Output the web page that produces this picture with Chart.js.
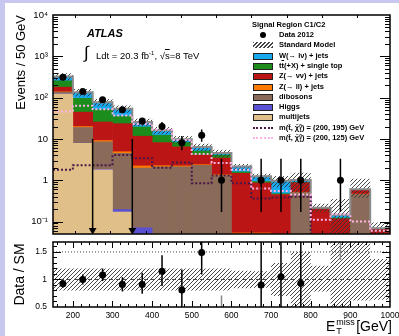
<!DOCTYPE html>
<html>
<head>
<meta charset="utf-8">
<title>Signal Region C1/C2</title>
<script src="https://cdn.jsdelivr.net/npm/chart.js@4.4.1/dist/chart.umd.min.js"></script>
<style>
  html, body { margin: 0; padding: 0; background: #c7c7ef; }
  #wrap { position: relative; width: 399px; height: 336px; overflow: hidden; }
  #paper { position: absolute; left: 5px; top: 3px; right: 0; bottom: 0; background: #fff; }
  canvas { position: absolute; left: 0; }
  .txt { position: absolute; font-family: "Liberation Sans", Arial, sans-serif; color: #000; white-space: nowrap; }
  .row { position: absolute; left: 252px; height: 10px; line-height: 10px; font: bold 7.5px "Liberation Sans", Arial, sans-serif; white-space: nowrap; }
  .row .sw { position: absolute; left: 1px; top: 2px; width: 18px; height: 5px; border: 1px solid #222; }
  .row .lab { position: absolute; left: 27px; top: 0; }
  .ss { display: inline-flex; flex-direction: column; font-size: 5px; line-height: 4px; vertical-align: middle; }
  .st { display: inline-block; position: relative; width: 17px; height: 10px; }
  .st span { position: absolute; left: 1px; font-size: 9px; line-height: 9px; }
</style>
</head>
<body>
<div id="wrap">
  <div id="paper"></div>
  <canvas id="main" width="399" height="238" style="top:0"></canvas>
  <canvas id="ratio" width="399" height="98" style="top:238px"></canvas>

  <div class="txt" style="left:87px;top:27px;font-weight:bold;font-style:italic;font-size:11px">ATLAS</div>
  <div class="txt" style="left:84px;top:43px;font-size:17px">∫</div>
  <div class="txt" style="left:96px;top:50px;font-size:9.5px">Ldt = 20.3 fb<sup style="font-size:6px">-1</sup>, √<span style="text-decoration:overline">s</span>=8 TeV</div>
  <div class="txt" style="left:252px;top:20px;font-weight:bold;font-size:7.5px">Signal Region C1/C2</div>
  <div id="legend"></div>
  <div class="txt" style="right:7px;top:318px;font-size:14px;line-height:16px">E<span class="st"><span style="top:-3px">miss</span><span style="top:6px">T</span></span> [GeV]</div>
</div>
<script>
// ビン境界 (GeV)
const binEdges = [150, 200, 250, 300, 350, 400, 450, 500, 550, 600, 650, 700, 750, 800, 850, 900, 950, 1000];

// 背景 (Events / 50 GeV) 下から順に
const multijets = [122, 7.8, 1.78, 0.17, 0.001, 0.001, 0.001, 0.001, 0.001, 0.001, 0.001, 0.001, 0.001, 0.001, 0.001, 0.001, 0.001];
const higgs     = [0.2, 0.1, 0.05, 0.025, 0.07, 0.005, 0.005, 0.005, 0.005, 0.002, 0.002, 0.002, 0.002, 0.001, 0.001, 0.001, 0.001];
const dibosons  = [14, 11, 6.7, 4.3, 1.9, 2.1, 2.1, 2.3, 1.3, 0.03, 0.03, 0.03, 0.5, 0.005, 0.005, 0.45, 0.004];
const zll       = [2, 1, 0.6, 0.4, 0.25, 0.15, 0.12, 0.08, 0.05, 0.02, 0.02, 0.01, 0.01, 0.005, 0.005, 0.01, 0.002];
const znn       = [41, 24.6, 16.6, 18.5, 9.4, 5.9, 4.2, 1.7, 2.1, 1.42, 0.81, 0.41, 0.36, 0.19, 0.105, 0.13, 0.058];
const ttbar     = [75, 51.5, 25.3, 12.2, 7.9, 4.1, 1.8, 1.0, 0.6, 0.12, 0.07, 0.02, 0.02, 0.003, 0.005, 0.003, 0.001];
const wjets     = [69, 38, 26, 18, 6.2, 3.9, 1.6, 1.3, 0.5, 0.55, 0.31, 0.5, 0.12, 0.01, 0.025, 0.01, 0.002];

// SM 不確かさ (相対)
const smUncUp = [0.2, 0.2, 0.2, 0.2, 0.2, 0.2, 0.2, 0.2, 0.2, 0.16, 0.15, 0.3, 0.5, 0.25, 1.4, 0.8, 0.37];
const smUncDn = [0.2, 0.2, 0.2, 0.2, 0.2, 0.2, 0.2, 0.2, 0.2, 0.16, 0.15, 0.3, 0.5, 0.22, 0.8, 0.38, 0.37];

// データ 2012
const data2012 = [313, 141, 89, 51, 27, 20, 8.1, 12.3, 1, null, 1, 1, 1, null, 1, null, null];
const dataLo   = [296, 129, 80, 44, 22, 16.2, 5.3, 8.6, 0.17, null, 0.17, 0.17, 0.17, null, 0.17, null, null];
const dataHi   = [331, 153, 99, 58, 32, 25.7, 11.8, 16.9, 3.3, null, 3.3, 3.3, 3.3, null, 3.3, null, null];

// シグナル
const sig195 = [1.8, 2.3, 2.3, 4.1, 3.4, 2.0, 2.7, 0.85, 1.3, 0.85, 0.36, 0.38, 0.4, 0.01, 0.01, 0.01, 0.01];
const sig125 = [46, 64, 52, 37, 23, 17, 9.4, 4.3, 2.6, 1.8, 0.63, 0.55, 0.45, 0.11, 0.15, 0.1, 0.06];

// Data / SM
const ratioVal = [0.92, 1.0, 1.08, 0.91, 0.91, 1.15, 0.81, 1.49, 0.21, null, 0.9, 1.05, 0.93, null, 7.1, null, null];
const ratioLo  = [0.85, 0.91, 0.97, 0.78, 0.74, 0.88, 0.45, 1.09, 0.03, null, 0.15, 0.17, 0.16, null, 1.36, null, null];
const ratioHi  = [0.99, 1.09, 1.2, 1.04, 1.12, 1.44, 1.18, 2.3, 0.71, null, 3.0, 3.4, 3.1, null, 24, null, null];

// 矢印 (GeV) と上端
const arrowX = [250, 350];
const arrowTop = 10;

// 目盛りラベル
const yTickValues = [0.1, 1, 10, 100, 1000, 10000];
const yTickLabels = ['10⁻¹', '1', '10', '10²', '10³', '10⁴'];
const rTickValues = [0.5, 1, 1.5];
const rTickLabels = ['0.5', '1', '1.5'];
const xTickValues = [200, 300, 400, 500, 600, 700, 800, 900, 1000];
const xTickLabels = ['200', '300', '400', '500', '600', '700', '800', '900', '1000'];

const FONT = '"Liberation Sans", Arial, sans-serif';
Chart.defaults.font.family = FONT;
Chart.defaults.color = '#000';

const stack = [
  { label: 'multijets', data: multijets, color: '#e0bf88' },
  { label: 'Higgs', data: higgs, color: '#5a50d4' },
  { label: 'dibosons', data: dibosons, color: '#8a6a58' },
  { label: 'Z(→ ll) + jets', data: zll, color: '#ff7a00' },
  { label: 'Z(→ νν) + jets', data: znn, color: '#bb1515' },
  { label: 'tt̄(+X) + single top', data: ttbar, color: '#1c8c1c' },
  { label: 'W(→ lν) + jets', data: wjets, color: '#18a8ee' }
];

const centres = binEdges.slice(0, -1).map((e, i) => (e + binEdges[i + 1]) / 2);
const smTotal = centres.map((_, i) => stack.reduce((s, b) => s + b.data[i], 0));

function steps(vals) {
  const pts = vals.map((v, i) => ({ x: binEdges[i], y: v }));
  pts.push({ x: binEdges[binEdges.length - 1], y: vals[vals.length - 1] });
  return pts;
}
function errBars(lo, hi, keep) {
  const pts = [];
  centres.forEach((x, i) => {
    if (lo[i] == null || !keep(i)) return;
    pts.push({ x, y: lo[i] }, { x, y: hi[i] }, { x, y: null });
  });
  return pts;
}
function points(vals) {
  return centres.map((x, i) => ({ x, y: vals[i] }));
}
function hatch() {
  const c = document.createElement('canvas');
  c.width = 4; c.height = 4;
  const g = c.getContext('2d');
  g.strokeStyle = '#333'; g.lineWidth = 0.9;
  g.beginPath();
  g.moveTo(0, 4); g.lineTo(4, 0);
  g.moveTo(-1, 1); g.lineTo(1, -1);
  g.moveTo(3, 5); g.lineTo(5, 3);
  g.stroke();
  return c.getContext('2d').createPattern(c, 'repeat');
}
const pattern = hatch();

function logTicks(scale) {
  const t = [];
  for (let e = -2; e <= 4; e++) for (let m = 1; m <= 9; m++) {
    const v = +(m * Math.pow(10, e)).toPrecision(6);
    if (v >= scale.min && v <= scale.max) t.push({ value: v, major: m === 1 });
  }
  scale.ticks = t;
}
function ratioTicks(scale) {
  const t = [];
  for (let k = 0; k <= 11; k++) {
    const v = +(0.5 + 0.1 * k).toFixed(1);
    t.push({ value: v, major: k % 5 === 0 });
  }
  scale.ticks = t;
}
function xTicks(scale) {
  const t = [];
  for (let v = 160; v <= 1000; v += 20) t.push({ value: v, major: v % 100 === 0 });
  scale.ticks = t;
}
function edgeTicks(scale) {
  scale.ticks = binEdges.map(v => ({ value: v }));
}
function pick(values, labels) {
  return v => {
    const i = values.findIndex(w => Math.abs(w - v) < 1e-6 * w);
    return i < 0 ? '' : labels[i];
  };
}

// 枠と内向きの目盛り
const frameTicks = {
  id: 'frameTicks',
  afterDatasetsDraw(chart, args, opts) {
    const { ctx, chartArea: a } = chart;
    const xs = chart.scales[opts.xId], ys = chart.scales.y;
    ctx.save();
    ctx.strokeStyle = '#000';
    ctx.lineWidth = 1;
    ctx.beginPath();
    xs.ticks.forEach(t => {
      if (t.value <= xs.min || t.value >= xs.max) return;
      const px = Math.round(xs.getPixelForValue(t.value)) + 0.5;
      const len = t.major ? opts.xMajor : opts.xMinor;
      ctx.moveTo(px, a.bottom); ctx.lineTo(px, a.bottom - len);
      ctx.moveTo(px, a.top); ctx.lineTo(px, a.top + len);
    });
    ys.ticks.forEach(t => {
      if (t.value <= ys.min || t.value >= ys.max) return;
      const py = Math.round(ys.getPixelForValue(t.value)) + 0.5;
      const len = t.major ? opts.yMajor : opts.yMinor;
      ctx.moveTo(a.left, py); ctx.lineTo(a.left + len, py);
      ctx.moveTo(a.right, py); ctx.lineTo(a.right - len, py);
    });
    ctx.stroke();
    ctx.lineWidth = 1.5;
    ctx.strokeRect(a.left, a.top, a.right - a.left, a.bottom - a.top);
    ctx.restore();
  }
};

const lineBase = { type: 'line', pointRadius: 0, fill: false, yAxisID: 'yl' };

const mainSets = stack.map((s, k) => ({
  type: 'bar', label: s.label,
  data: points(s.data),
  backgroundColor: s.color, borderWidth: 0,
  barPercentage: 1, categoryPercentage: 1,
  stack: 'bkg', order: 10 + k, yAxisID: 'y'
}));
mainSets.push(
  { ...lineBase, label: 'SM up', data: steps(smTotal.map((v, i) => v * (1 + smUncUp[i]))),
    stepped: true, borderWidth: 0, backgroundColor: pattern, fill: '+1', order: 4 },
  { ...lineBase, label: 'SM down', data: steps(smTotal.map((v, i) => Math.max(v * (1 - smUncDn[i]), 0.001))),
    stepped: true, borderWidth: 0, order: 4 },
  { ...lineBase, label: 'Standard Model', data: steps(smTotal), stepped: true,
    borderColor: '#8a8a8a', borderWidth: 2, order: 3 },
  { ...lineBase, label: 'm(200, 125)', data: steps(sig125), stepped: true,
    borderColor: '#ffb3e6', borderWidth: 2, borderDash: [2, 2], order: 2 },
  { ...lineBase, label: 'm(200, 195)', data: steps(sig195), stepped: true,
    borderColor: '#4a1848', borderWidth: 2, borderDash: [2, 2], order: 2 },
  { ...lineBase, label: 'arrows',
    data: arrowX.flatMap(x => [{ x, y: arrowTop }, { x, y: 0.062 }, { x, y: null }]),
    borderColor: '#000', borderWidth: 1.5,
    pointRadius: arrowX.flatMap(() => [0, 4.5, 0]), pointStyle: 'triangle', pointRotation: 180,
    pointBackgroundColor: '#000', pointBorderWidth: 0, order: 1 },
  { ...lineBase, label: 'data err', data: errBars(dataLo, dataHi, () => true),
    borderColor: '#000', borderWidth: 1.5, order: 1 },
  { ...lineBase, label: 'Data 2012', data: points(data2012), showLine: false,
    pointRadius: 3.5, pointBackgroundColor: '#000', pointBorderWidth: 0, order: 0 }
);

new Chart(document.getElementById('main'), {
  type: 'bar',
  data: { datasets: mainSets },
  options: {
    responsive: false,
    animation: false,
    layout: { padding: { top: 15, right: 9, left: 0, bottom: 0 } },
    plugins: {
      legend: { display: false }, tooltip: { enabled: false },
      frameTicks: { xId: 'xt', xMajor: 6, xMinor: 3, yMajor: 10, yMinor: 5 }
    },
    scales: {
      x: {
        type: 'linear', min: 150, max: 1000, offset: false, stacked: true,
        grid: { display: false, drawTicks: false }, border: { display: false },
        ticks: { display: false },
        afterBuildTicks: edgeTicks,
        afterFit: s => { s.height = 2; s.paddingLeft = 0; s.paddingRight = 0; }
      },
      xt: { type: 'linear', min: 150, max: 1000, display: false, afterBuildTicks: xTicks },
      y: {
        type: 'logarithmic', min: 0.05, max: 10000, stacked: true,
        grid: { display: false, drawTicks: false }, border: { display: false },
        ticks: { autoSkip: false, padding: 5, font: { size: 9.5 }, callback: pick(yTickValues, yTickLabels) },
        title: { display: true, text: 'Events / 50 GeV', align: 'end', font: { size: 13 }, padding: { top: 14, bottom: 0 } },
        afterBuildTicks: logTicks,
        afterFit: s => { s.width = 53; s.paddingTop = 0; s.paddingBottom = 0; }
      },
      yl: { type: 'logarithmic', min: 0.05, max: 10000, display: false }
    }
  },
  plugins: [frameTicks]
});

const off = i => ratioVal[i] != null && (ratioVal[i] < 0.5 || ratioVal[i] > 1.68);
const rBase = { type: 'line', pointRadius: 0, fill: false };

new Chart(document.getElementById('ratio'), {
  type: 'line',
  data: {
    datasets: [
      { ...rBase, label: 'unc up', data: steps(smUncUp.map(u => 1 + u)), stepped: true,
        borderWidth: 0, backgroundColor: pattern, fill: '+1', order: 5 },
      { ...rBase, label: 'unc down', data: steps(smUncDn.map(d => 1 - d)), stepped: true,
        borderWidth: 0, order: 5 },
      { ...rBase, label: '1.5', data: [{ x: 150, y: 1.5 }, { x: 1000, y: 1.5 }],
        borderColor: '#444', borderWidth: 1, borderDash: [1, 2], order: 4 },
      { ...rBase, label: '1', data: [{ x: 150, y: 1 }, { x: 1000, y: 1 }],
        borderColor: '#444', borderWidth: 1, borderDash: [4, 3], order: 4 },
      { ...rBase, label: 'err off', data: errBars(ratioLo, ratioHi, off),
        borderColor: '#888', borderWidth: 1.5, order: 2 },
      { ...rBase, label: 'err', data: errBars(ratioLo, ratioHi, i => !off(i)),
        borderColor: '#000', borderWidth: 1.5, order: 1 },
      { ...rBase, label: 'ratio', data: points(ratioVal), showLine: false,
        pointRadius: 3.5, pointBackgroundColor: '#000', pointBorderWidth: 0, order: 0 }
    ]
  },
  options: {
    responsive: false,
    animation: false,
    layout: { padding: { top: 4, right: 9, left: 0, bottom: 0 } },
    plugins: {
      legend: { display: false }, tooltip: { enabled: false },
      frameTicks: { xId: 'x', xMajor: 6, xMinor: 3, yMajor: 8, yMinor: 4 }
    },
    scales: {
      x: {
        type: 'linear', min: 150, max: 1000,
        grid: { display: false, drawTicks: false }, border: { display: false },
        ticks: { autoSkip: false, maxRotation: 0, padding: 4, font: { size: 8.5 }, callback: pick(xTickValues, xTickLabels) },
        afterBuildTicks: xTicks,
        afterFit: s => { s.height = 29; s.paddingLeft = 0; s.paddingRight = 0; }
      },
      y: {
        type: 'linear', min: 0.5, max: 1.68,
        grid: { display: false, drawTicks: false }, border: { display: false },
        ticks: { autoSkip: false, padding: 6, font: { size: 8.5 }, callback: pick(rTickValues, rTickLabels) },
        title: { display: true, text: 'Data / SM', font: { size: 14 }, padding: { top: 12, bottom: 0 } },
        afterBuildTicks: ratioTicks,
        afterFit: s => { s.width = 53; s.paddingTop = 0; s.paddingBottom = 0; }
      }
    }
  },
  plugins: [frameTicks]
});

// 凡例
const legendRows = [
  { html: 'Data 2012', kind: 'dot' },
  { html: 'Standard Model', kind: 'hatch' },
  { html: 'W(→ lν) + jets', kind: 'box', color: stack[6].color },
  { html: 't<span style="text-decoration:overline">t</span>(+X) + single top', kind: 'box', color: stack[5].color },
  { html: 'Z(→ νν) + jets', kind: 'box', color: stack[4].color },
  { html: 'Z(→ ll) + jets', kind: 'box', color: stack[3].color },
  { html: 'dibosons', kind: 'box', color: stack[2].color },
  { html: 'Higgs', kind: 'box', color: stack[1].color },
  { html: 'multijets', kind: 'box', color: stack[0].color },
  { html: 'm(t̃, χ̃<span class="ss"><span>0</span><span>1</span></span>) = (200, 195) GeV', kind: 'line', color: '#4a1848' },
  { html: 'm(t̃, χ̃<span class="ss"><span>0</span><span>1</span></span>) = (200, 125) GeV', kind: 'line', color: '#ffb3e6' }
];
const legend = document.getElementById('legend');
legendRows.forEach((r, i) => {
  const row = document.createElement('div');
  row.className = 'row';
  row.style.top = (30 + 10.3 * i) + 'px';
  let sw = '';
  if (r.kind === 'dot') sw = '<span style="position:absolute;left:8px;top:2px;width:6px;height:6px;border-radius:50%;background:#000"></span>';
  if (r.kind === 'hatch') sw = '<span style="position:absolute;left:1px;top:2px;width:20px;height:6px;background:repeating-linear-gradient(135deg,#444 0 1px,transparent 1px 2.8px)"></span>';
  if (r.kind === 'box') sw = '<span class="sw" style="background:' + r.color + '"></span>';
  if (r.kind === 'line') sw = '<span style="position:absolute;left:1px;top:4px;width:20px;height:0;border-top:2px dotted ' + r.color + '"></span>';
  row.innerHTML = sw + '<span class="lab">' + r.html + '</span>';
  legend.appendChild(row);
});
</script>
</body>
</html>
